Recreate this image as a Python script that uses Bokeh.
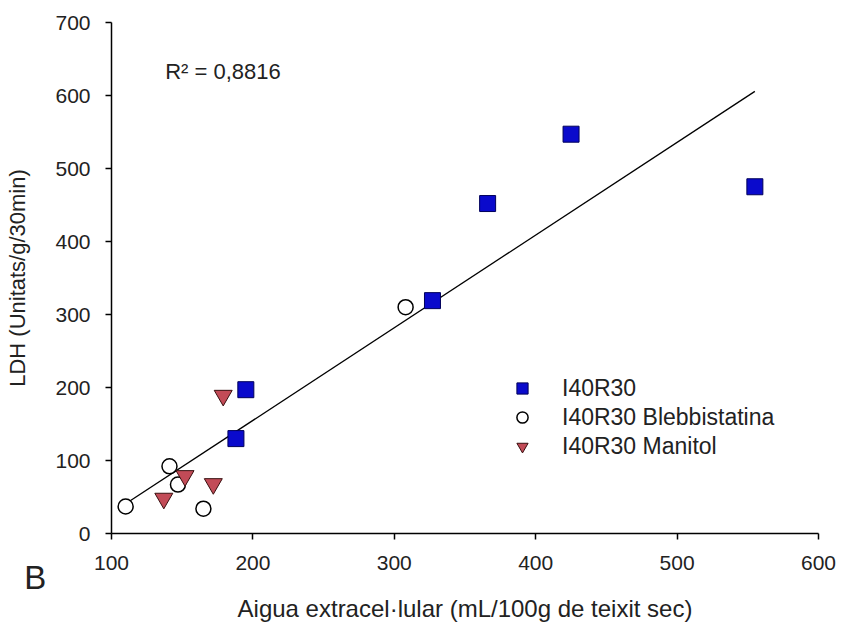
import numpy as np
from bokeh.plotting import figure
from bokeh.models import Range1d, Label, Legend, LegendItem, FixedTicker
from bokeh.embed import file_html
from bokeh.resources import INLINE

# Data
i40r30_x = [188, 195, 327, 366, 425, 555]
i40r30_y = [130, 197, 319, 452, 547, 475]
blebb_x = [110, 141, 147, 165, 308]
blebb_y = [37, 92, 67, 34, 310]
manitol_x = [137, 152, 172, 179]
manitol_y = [48, 79, 68, 189]
x_ticks = [100, 200, 300, 400, 500, 600]
y_ticks = [0, 100, 200, 300, 400, 500, 600, 700]
r2_text = "R² = 0,8816"

FONT = "Liberation Sans"
TXT = "#222222"

p = figure(width=840, height=624, output_backend="svg", toolbar_location=None,
           x_range=Range1d(100, 600), y_range=Range1d(0, 700),
           min_border_left=111, min_border_right=22, min_border_top=22, min_border_bottom=91)
p.outline_line_color = None
p.xgrid.visible = False
p.ygrid.visible = False
p.background_fill_color = "white"

for ax in (p.xaxis[0], p.yaxis[0]):
    ax.axis_line_color = "black"
    ax.axis_line_width = 1.5
    ax.major_tick_line_color = "black"
    ax.major_tick_line_width = 1.5
    ax.major_tick_in = 0
    ax.major_tick_out = 6
    ax.minor_tick_line_color = None
    ax.major_label_text_font = FONT
    ax.major_label_text_font_size = "21px"
    ax.major_label_text_color = TXT
    ax.axis_label_text_font = FONT
    ax.axis_label_text_font_style = "normal"
    ax.axis_label_text_color = TXT

p.xaxis.ticker = FixedTicker(ticks=x_ticks)
p.yaxis.ticker = FixedTicker(ticks=y_ticks)
p.xaxis.axis_label = "Aigua extracel·lular (mL/100g de teixit sec)"
p.yaxis.axis_label = "LDH (Unitats/g/30min)"
p.xaxis.axis_label_text_font_size = "24px"
p.yaxis.axis_label_text_font_size = "22px"
p.xaxis.major_label_standoff = 16
p.yaxis.major_label_standoff = 15
p.xaxis.axis_label_standoff = 22
p.yaxis.axis_label_standoff = 22

# regression line over all points
all_x = np.array(i40r30_x + blebb_x + manitol_x, dtype=float)
all_y = np.array(i40r30_y + blebb_y + manitol_y, dtype=float)
slope, intercept = np.polyfit(all_x, all_y, 1)
lx = np.array([all_x.min(), all_x.max()])
p.line(lx, slope * lx + intercept, line_color="black", line_width=1.3)

r1 = p.scatter(i40r30_x, i40r30_y, marker="square", size=16,
               fill_color="#0a0acc", line_color="#00005a", line_width=1)
r2 = p.scatter(blebb_x, blebb_y, marker="circle", size=15,
               fill_color="white", line_color="black", line_width=1.5)
r3 = p.scatter(manitol_x, manitol_y, marker="inverted_triangle", size=18,
               fill_color="#c24b57", line_color="#3a1010", line_width=1)

legend = Legend(items=[LegendItem(label="I40R30", renderers=[r1]),
                       LegendItem(label="I40R30 Blebbistatina", renderers=[r2]),
                       LegendItem(label="I40R30 Manitol", renderers=[r3])],
                location=(397, 73))
legend.border_line_color = None
legend.background_fill_alpha = 0
legend.label_text_font = FONT
legend.label_text_font_size = "23px"
legend.label_text_color = TXT
legend.glyph_width = 28
legend.glyph_height = 28
legend.label_height = 28
legend.label_standoff = 26
legend.spacing = 1
legend.padding = 0
legend.margin = 0
p.add_layout(legend)

p.add_layout(Label(x=138, y=633, text=r2_text, text_font=FONT, text_font_size="22px",
                   text_color=TXT, text_baseline="middle", text_align="left"))
p.add_layout(Label(x=46, y=-60, text="B", text_font=FONT, text_font_size="33px",
                   text_color=TXT, text_baseline="middle", text_align="center"), "right")

open("out.html", "w").write(file_html(p, INLINE))
